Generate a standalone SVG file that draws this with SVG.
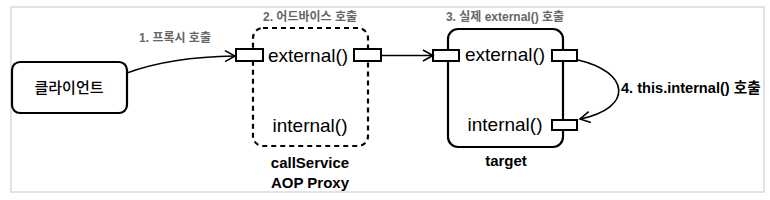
<svg xmlns="http://www.w3.org/2000/svg" width="770" height="200" viewBox="0 0 770 200">
<style>
.frame{fill:#fff;stroke:#d9d9d9;stroke-width:1.5}
.box{fill:#fff;stroke:#000;stroke-width:2.2}
.dash{fill:none;stroke:#000;stroke-width:2.2;stroke-dasharray:5 4}
.port{fill:#fff;stroke:#000;stroke-width:2}
.conn{fill:none;stroke:#000;stroke-width:1.6}
.m{font-family:"Liberation Sans","Noto Sans CJK KR",sans-serif;font-size:19px;fill:#000}
.c{font-family:"Liberation Sans","Noto Sans CJK KR",sans-serif;font-size:15px;font-weight:500;fill:#000}
.b{font-family:"Liberation Sans","Noto Sans CJK KR",sans-serif;font-size:15px;font-weight:bold;fill:#000}
.g{font-family:"Liberation Sans","Noto Sans CJK KR",sans-serif;font-size:12px;font-weight:bold;fill:#666}
.l{font-family:"Liberation Sans","Noto Sans CJK KR",sans-serif;font-size:14.6px;font-weight:bold;fill:#000}
</style>
<defs>
<marker id="arr" markerUnits="userSpaceOnUse" markerWidth="14" markerHeight="14" refX="12" refY="7" orient="auto">
<path d="M2,1.5 L12,7 L2,12.5" fill="none" stroke="#000" stroke-width="1.6"/>
</marker>
</defs>
<rect class="frame" x="11" y="7" width="753" height="185"/>
<g id="client">
<rect class="box" x="12" y="62" width="115" height="51" rx="8"/>
<text class="c" x="69" y="93" text-anchor="middle">클라이언트</text>
</g>
<g id="proxy">
<rect class="dash" x="253" y="28" width="115" height="118" rx="10"/>
<rect class="port" x="236" y="49" width="27" height="12"/>
<rect class="port" x="354" y="49" width="27" height="12"/>
<text class="m" x="308" y="62" text-anchor="middle">external()</text>
<text class="m" x="310" y="132" text-anchor="middle">internal()</text>
<text class="b" x="310" y="168" text-anchor="middle">callService</text>
<text class="b" x="310" y="188" text-anchor="middle">AOP Proxy</text>
<text class="g" x="310" y="21" text-anchor="middle">2. 어드바이스 호출</text>
</g>
<g id="target">
<rect class="box" x="448" y="29" width="115" height="118" rx="10"/>
<rect class="port" x="433" y="50" width="26" height="11"/>
<rect class="port" x="552" y="50" width="25" height="11"/>
<rect class="port" x="552" y="120" width="25" height="10"/>
<text class="m" x="505" y="61" text-anchor="middle">external()</text>
<text class="m" x="505" y="131" text-anchor="middle">internal()</text>
<text class="b" x="506" y="166" text-anchor="middle">target</text>
<text class="g" x="505" y="21" text-anchor="middle">3. 실제 external() 호출</text>
</g>
<g id="connectors">
<path class="conn" d="M127,73 Q170,57 235,56" marker-end="url(#arr)"/>
<text class="g" x="175" y="42" text-anchor="middle">1. 프록시 호출</text>
<path class="conn" d="M381,55.5 L433,55.5" marker-end="url(#arr)"/>
<path class="conn" d="M578,60 C630,72 634,108 580,119" marker-end="url(#arr)"/>
<text class="l" x="621" y="93">4. this.internal() 호출</text>
</g>
</svg>
